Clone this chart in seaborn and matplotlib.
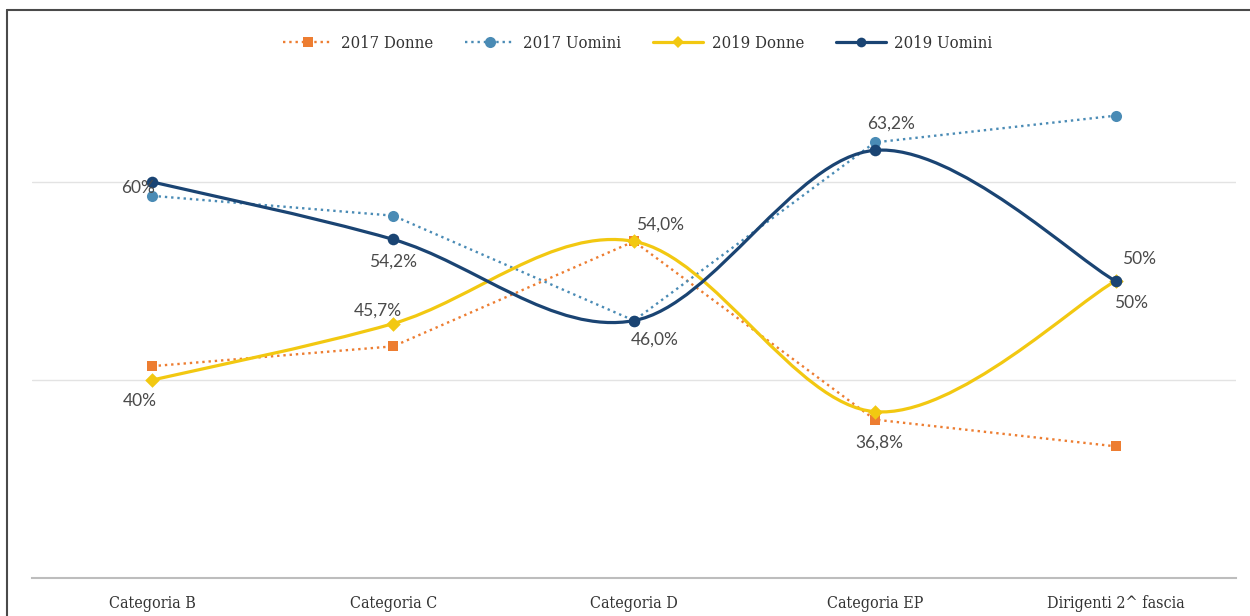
import numpy as np
import matplotlib.pyplot as plt
import seaborn as sns
from matplotlib.path import Path
from matplotlib.patches import PathPatch
from matplotlib.lines import Line2D

# dati (percentuali)
categorie = ['Categoria B', 'Categoria C', 'Categoria D', 'Categoria EP', 'Dirigenti 2^ fascia']
donne_2017 = [41.4, 43.4, 54.0, 36.0, 33.3]
uomini_2017 = [58.6, 56.6, 46.0, 64.0, 66.7]
donne_2019 = [40.0, 45.7, 54.0, 36.8, 50.0]
uomini_2019 = [60.0, 54.2, 46.0, 63.2, 50.0]
etichette_donne_2019 = ['40%', '45,7%', '54,0%', '36,8%', '50%']
etichette_uomini_2019 = ['60%', '54,2%', '46,0%', '63,2%', '50%']

ARANCIO = '#ED7D31'
AZZURRO = '#4A8BB5'
GIALLO = '#F2C811'
BLU = '#1A4473'
TESTO = '#404040'

sns.set_style('white')
plt.rcParams['font.family'] = ['Lato', 'DejaVu Sans']

fig = plt.figure(figsize=(12.5, 6.16), dpi=100)
ax = fig.add_axes([0.0256, 0.0617, 0.9632, 0.8357])
x = np.arange(len(categorie))


def curva_smussata(ax, xs, ys, colore, lw, z):
    # curva tipo "linea smussata" di Excel: bezier con punti di controllo Catmull-Rom
    pts = np.column_stack([xs, ys]).astype(float)
    est = np.vstack([pts[0], pts, pts[-1]])
    verts = [pts[0]]
    codes = [Path.MOVETO]
    for i in range(len(pts) - 1):
        p0, p1, p2, p3 = est[i], est[i + 1], est[i + 2], est[i + 3]
        verts += [p1 + (p2 - p0) / 6, p2 - (p3 - p1) / 6, p2]
        codes += [Path.CURVE4] * 3
    ax.add_patch(PathPatch(Path(verts, codes), fill=False, edgecolor=colore,
                           lw=lw, zorder=z, capstyle='round'))


# 2017: linee tratteggiate a punti
sns.lineplot(x=x, y=donne_2017, ax=ax, color=ARANCIO, lw=1.7, linestyle=':',
             marker='s', markersize=7.5, markeredgewidth=0, zorder=2)
sns.lineplot(x=x, y=uomini_2017, ax=ax, color=AZZURRO, lw=1.7, linestyle=':',
             marker='o', markersize=8, markeredgewidth=0, zorder=2)

# 2019: linee smussate
curva_smussata(ax, x, donne_2019, GIALLO, 2.3, 3)
sns.scatterplot(x=x, y=donne_2019, ax=ax, color=GIALLO, marker='D', s=55,
                linewidth=0, zorder=4)
curva_smussata(ax, x, uomini_2019, BLU, 2.3, 5)
sns.scatterplot(x=x, y=uomini_2019, ax=ax, color=BLU, marker='o', s=70,
                linewidth=0, zorder=6)

# etichette dati (spostamenti in punti)
off_donne = [(-9, -15), (-11, 9), (19, 12), (3, -22), (17, 16)]
off_uomini = [(-10, -4), (0, -16), (15, -14), (12, 19), (11, -16)]
for i in range(len(x)):
    ax.annotate(etichette_donne_2019[i], (x[i], donne_2019[i]), xytext=off_donne[i],
                textcoords='offset points', ha='center', va='center',
                fontsize=12.5, color='#4A4A4A', zorder=7)
    ax.annotate(etichette_uomini_2019[i], (x[i], uomini_2019[i]), xytext=off_uomini[i],
                textcoords='offset points', ha='center', va='center',
                fontsize=12.5, color='#4A4A4A', zorder=7)

ax.set_xlim(-0.5, len(categorie) - 0.5)
ax.set_ylim(20, 72)
ax.set_yticks([40, 60])
ax.set_yticklabels([])
ax.yaxis.grid(True, color='#E3E3E3', lw=1.0)
ax.set_axisbelow(True)
ax.set_xticks(x)
ax.set_xticklabels(categorie, fontsize=11.5, color='#333333',
                   family=['DejaVu Serif', 'DejaVu Sans'], fontstretch='condensed')
ax.tick_params(axis='both', length=0)
ax.tick_params(axis='x', pad=12)
for lato in ['top', 'right', 'left']:
    ax.spines[lato].set_visible(False)
ax.spines['bottom'].set_color('#BDBDBD')
ax.spines['bottom'].set_linewidth(1.5)

# legenda in alto
maniglie = [
    Line2D([], [], color=ARANCIO, lw=1.7, linestyle=':', marker='s', markersize=7.5, markeredgewidth=0),
    Line2D([], [], color=AZZURRO, lw=1.7, linestyle=':', marker='o', markersize=8, markeredgewidth=0),
    Line2D([], [], color=GIALLO, lw=2.3, marker='D', markersize=6, markeredgewidth=0),
    Line2D([], [], color=BLU, lw=2.3, marker='o', markersize=7, markeredgewidth=0),
]
nomi = ['2017 Donne', '2017 Uomini', '2019 Donne', '2019 Uomini']
fig.legend(maniglie, nomi, loc='center', bbox_to_anchor=(0.51, 0.93), ncol=4,
           frameon=False, handlelength=3.0, columnspacing=1.9, handletextpad=0.5,
           prop={'family': ['DejaVu Serif', 'DejaVu Sans'], 'stretch': 'condensed', 'size': 12},
           labelcolor='#333333')

# cornice dell'immagine (sopra e a sinistra)
fig.add_artist(Line2D([7 / 1250, 7 / 1250], [0, 1 - 10 / 616], color='#4A4A4A', lw=1.5))
fig.add_artist(Line2D([7 / 1250, 1], [1 - 10 / 616, 1 - 10 / 616], color='#4A4A4A', lw=1.5))

fig.savefig('out.png', dpi=100)
